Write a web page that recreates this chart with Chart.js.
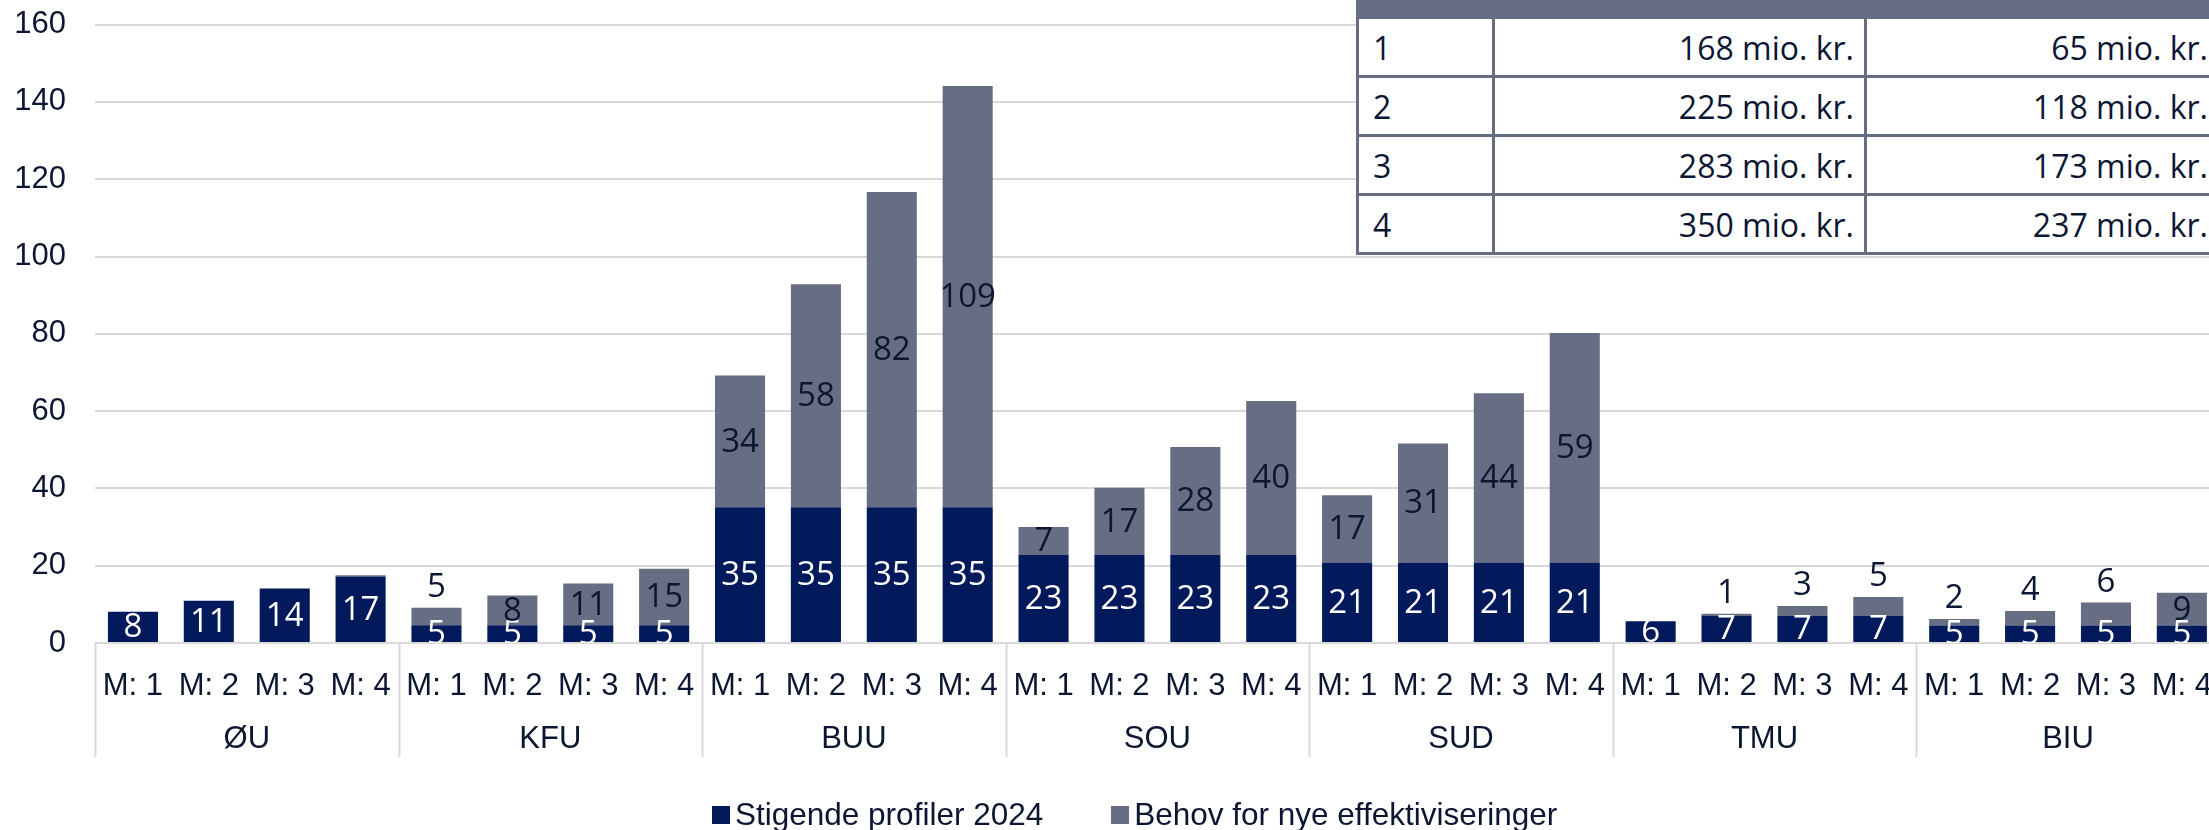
<!DOCTYPE html>
<html>
<head>
<meta charset="utf-8">
<script src="https://cdn.jsdelivr.net/npm/chart.js@4.4.1/dist/chart.umd.min.js"></script>
<style>
  html, body { margin: 0; padding: 0; background: #ffffff; overflow: hidden; width: 2209px; height: 830px; }
  #wrap { position: relative; width: 2209px; height: 830px; overflow: hidden; }
  #c { position: absolute; left: 0; top: -23px; }
  #tbl { position: absolute; left: 1356px; top: -43px; width: 872px; border-collapse: collapse; table-layout: fixed;
         font-family: "Open Sans", sans-serif; font-size: 32px; color: #0c1633; background: #fff; }
  #tbl tr { height: 59px; }
  #tbl td, #tbl th { border: 3px solid #676d82; padding: 0 10px; white-space: nowrap; }
  #tbl th { background: #676d82; color: #fff; font-weight: normal; }
  #tbl td.l { text-align: left; padding-left: 14px; }
  #tbl td.r { text-align: right; }
  #tbl td.r3 { padding-right: 20px; }
  #legend { position: absolute; top: 796px; left: 712px; display: flex; align-items: center;
            font-family: "Liberation Sans", Arial, sans-serif; font-size: 31.5px; color: #0c1633; }
  .li { display: flex; align-items: center; margin-right: 68px; }
  .sw { width: 18px; height: 18px; margin-right: 5px; }
</style>
</head>
<body>
<div id="wrap">
  <canvas id="c" width="2237" height="853" style="width:2237px;height:853px"></canvas>
  <table id="tbl">
    <colgroup><col style="width:136px"><col style="width:372px"><col style="width:364px"></colgroup>
    <thead><tr><th></th><th></th><th></th></tr></thead>
    <tbody id="tb"></tbody>
  </table>
  <div id="legend"></div>
</div>
<script>
// ---- data ----
const groups = ['ØU', 'KFU', 'BUU', 'SOU', 'SUD', 'TMU', 'BIU'];
const models = ['M: 1', 'M: 2', 'M: 3', 'M: 4'];
const seriesNames = ['Stigende profiler 2024', 'Behov for nye effektiviseringer'];
const stigende = [
  8.1, 10.9, 14.1, 17.2,
  4.6, 4.6, 4.6, 4.6,
  35.1, 35.1, 35.1, 35.1,
  22.8, 22.8, 22.8, 22.8,
  20.8, 20.8, 20.8, 20.8,
  5.6, 7.0, 7.0, 7.0,
  4.5, 4.5, 4.5, 4.5
];
const behov = [
  0, 0, 0, 0.3,
  4.5, 7.7, 10.8, 14.6,
  34.1, 57.7, 81.6, 109.0,
  7.2, 17.4, 27.9, 39.8,
  17.4, 30.8, 43.8, 59.4,
  0, 0.6, 2.6, 4.9,
  1.7, 3.8, 6.0, 8.5
];
const yTicks = [0, 20, 40, 60, 80, 100, 120, 140, 160];
const tableModels = ['1', '2', '3', '4'];
const tableCol2 = [168, 225, 283, 350];
const tableCol3 = [65, 118, 173, 237];

// ---- styles ----
const NAVY = '#021a5b';
const GRAY = '#676d82';
const TEXT = '#0c1633';
const GRID = '#d9d9d9';
const AXIS_FONT = '"Liberation Sans", Arial, sans-serif';
const LABEL_FONT = '"Open Sans", sans-serif';

const categories = [];
groups.forEach(() => models.forEach(m => categories.push(m)));

// table
const tb = document.getElementById('tb');
tableModels.forEach((m, i) => {
  const tr = document.createElement('tr');
  tr.innerHTML = '<td class="l">' + m + '</td><td class="r">' + tableCol2[i] + ' mio. kr.</td><td class="r r3">' + tableCol3[i] + ' mio. kr.</td>';
  tb.appendChild(tr);
});

// legend
const lg = document.getElementById('legend');
[NAVY, GRAY].forEach((col, i) => {
  const d = document.createElement('div');
  d.className = 'li';
  d.innerHTML = '<span class="sw" style="background:' + col + '"></span><span>' + seriesNames[i] + '</span>';
  lg.appendChild(d);
});

const labelPlugin = {
  id: 'barLabels',
  afterDatasetsDraw(chart) {
    const ctx = chart.ctx;
    const area = chart.chartArea;
    ctx.save();
    ctx.beginPath();
    ctx.rect(area.left, area.top, area.right - area.left, area.bottom - area.top);
    ctx.clip();
    ctx.font = '33px ' + LABEL_FONT;
    ctx.textAlign = 'center';
    ctx.textBaseline = 'middle';
    chart.data.datasets.forEach((ds, di) => {
      const meta = chart.getDatasetMeta(di);
      meta.data.forEach((el, i) => {
        const v = ds.data[i];
        const r = Math.round(v);
        if (r === 0) return;
        let y = (el.y + el.base) / 2;
        if (di === 0) {
          ctx.fillStyle = '#ffffff';
        } else {
          ctx.fillStyle = TEXT;
          if (v < 7) y = el.y - 21;
        }
        ctx.fillText(String(r), el.x, y + 1);
      });
    });
    ctx.restore();
  }
};

const groupPlugin = {
  id: 'groupAxis',
  afterDraw(chart) {
    const ctx = chart.ctx;
    const xs = chart.scales.x;
    const n = categories.length;
    const catW = (xs.right - xs.left) / n;
    const per = models.length;
    const top = chart.chartArea.bottom;
    ctx.save();
    ctx.strokeStyle = GRID;
    ctx.lineWidth = 2;
    for (let k = 0; k <= groups.length; k++) {
      const x = Math.round(xs.left + k * per * catW) + 0.5;
      ctx.beginPath();
      ctx.moveTo(x, top);
      ctx.lineTo(x, top + 114);
      ctx.stroke();
    }
    ctx.fillStyle = TEXT;
    ctx.font = '31px ' + AXIS_FONT;
    ctx.textAlign = 'center';
    ctx.textBaseline = 'middle';
    groups.forEach((g, k) => {
      const cx = xs.left + (k + 0.5) * per * catW;
      ctx.fillText(g, cx, top + 96);
    });
    ctx.restore();
  }
};

new Chart(document.getElementById('c'), {
  type: 'bar',
  data: {
    labels: categories,
    datasets: [
      { label: seriesNames[0], data: stigende, backgroundColor: NAVY, borderWidth: 0,
        barPercentage: 0.66, categoryPercentage: 1.0 },
      { label: seriesNames[1], data: behov, backgroundColor: GRAY, borderWidth: 0,
        barPercentage: 0.66, categoryPercentage: 1.0 }
    ]
  },
  options: {
    responsive: false,
    animation: false,
    devicePixelRatio: 1,
    layout: { padding: { top: 0, left: 0, right: 0, bottom: 0 } },
    plugins: { legend: { display: false }, tooltip: { enabled: false }, title: { display: false } },
    scales: {
      x: {
        stacked: true,
        grid: { display: false, drawTicks: false },
        border: { display: false },
        ticks: { color: TEXT, font: { family: AXIS_FONT, size: 31 }, padding: 25, maxRotation: 0, autoSkip: false },
        afterFit(scale) { scale.height = 187; }
      },
      y: {
        stacked: true,
        min: 0, max: 160,
        afterBuildTicks(scale) { scale.ticks = yTicks.map(v => ({ value: v })); },
        grid: { color: GRID, lineWidth: 2, drawTicks: false },
        border: { display: false },
        ticks: { color: TEXT, font: { family: AXIS_FONT, size: 31 }, padding: 29 },
        afterFit(scale) { scale.width = 95; }
      }
    }
  },
  plugins: [labelPlugin, groupPlugin]
});
</script>
</body>
</html>
